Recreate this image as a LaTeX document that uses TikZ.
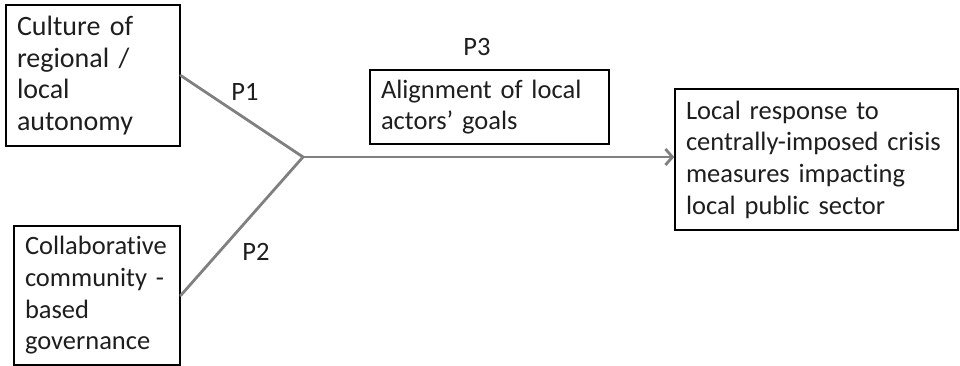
\documentclass[tikz,border=0pt]{standalone}
\usepackage{fontspec}
\setmainfont{Carlito}[WordSpace=0.85,Ligatures=NoCommon]
\usetikzlibrary{arrows.meta,calc}
\definecolor{conn}{RGB}{128,128,128}
\definecolor{txt}{RGB}{30,30,30}
\begin{document}
\begin{tikzpicture}[x=1pt,y=-1pt,
  box/.style={draw=black,line width=1.4pt,inner xsep=11pt,inner ysep=4pt,align=left,
    font=\fontsize{26.5}{31.7}\selectfont,text=txt},
  bigbox/.style={box,font=\fontsize{28}{31.7}\selectfont},
  conline/.style={draw=conn,line width=2.8pt},
  plabel/.style={font=\fontsize{26.5}{31.7}\selectfont,text=txt}]
\useasboundingbox (0,0) rectangle (960,366);
\node[bigbox,text width=152pt,minimum height=141pt] (b1) at (93,75.5) {Culture of\\regional /\\local\\autonomy};
\node[box,text width=144pt,minimum height=139pt] (b2) at (97,295.5) {Collaborative\\community -\\based\\governance};
\node[box,text width=217pt,minimum height=74pt] (b3) at (489.5,107) {Alignment of local\\actors’ goals};
\node[box,text width=261pt,minimum height=141pt] (b4) at (816.5,159.5) {Local response to\\centrally-imposed crisis\\measures impacting\\local public sector};
\coordinate (j) at (303,157);
\node[plabel] (p1) at (245,92) {P1};
\node[plabel] (p2) at (256,252) {P2};
\node[plabel] (p3) at (477,47) {P3};
\draw[conline,line cap=round] (b1.east) -- (j);
\draw[conline,line cap=round] (b2.east) -- (j);
\draw[conline,-{Straight Barb[length=7pt,width=16pt,line width=2.8pt]}] (j) -- (j -| b4.west);
\end{tikzpicture}
\end{document}
